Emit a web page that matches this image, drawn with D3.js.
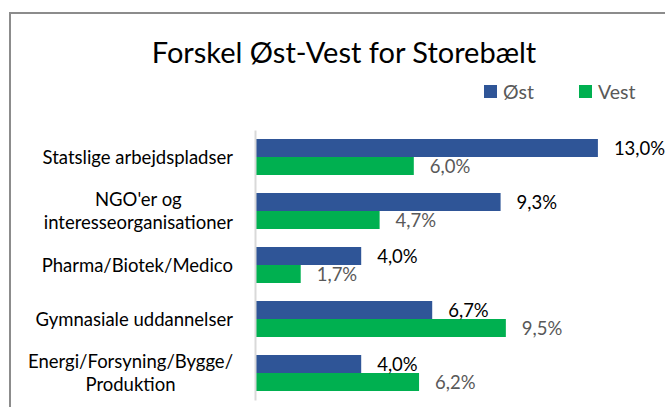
<!DOCTYPE html>
<html>
<head>
<meta charset="utf-8">
<script src="https://cdn.jsdelivr.net/npm/d3@7"></script>
<style>
  body { margin: 0; background: #fff; }
  text { font-family: Lato, "Open Sans", sans-serif; }
</style>
</head>
<body>
<div id="chart"></div>
<script>
// chart data
var categories = ["Statslige arbejdspladser", "NGO'er og interesseorganisationer", "Pharma/Biotek/Medico", "Gymnasiale uddannelser", "Energi/Forsyning/Bygge/Produktion"];
var categoryLines = [["Statslige arbejdspladser"], ["NGO'er og", "interesseorganisationer"], ["Pharma/Biotek/Medico"], ["Gymnasiale uddannelser"], ["Energi/Forsyning/Bygge/", "Produktion"]];
var series = ["Øst", "Vest"];
var ostValues = [13.0, 9.3, 4.0, 6.7, 4.0];
var vestValues = [6.0, 4.7, 1.7, 9.5, 6.2];
var colors = ["#2F5597", "#00B050"];
var labelColors = ["#000000", "#595959"];

var svgWidth = 665, svgHeight = 407;

var svg = d3.select("#chart").append("svg")
    .attr("width", svgWidth)
    .attr("height", svgHeight);

// frame of the chart area
svg.append("rect")
    .attr("x", 10).attr("y", 13)
    .attr("width", 700).attr("height", 500)
    .attr("fill", "#fff")
    .attr("stroke", "#8c8c8c")
    .attr("stroke-width", 2);

// title
svg.append("text")
    .attr("x", 344).attr("y", 63)
    .attr("text-anchor", "middle")
    .attr("font-size", 29)
    .attr("fill", "#000")
    .text("Forskel Øst-Vest for Storebælt");

// scales
var y = d3.scaleBand()
    .domain(categories)
    .range([130, 400])
    .paddingInner(1 / 3)
    .paddingOuter(1 / 6);

var ySub = d3.scaleBand()
    .domain(series)
    .range([0, y.bandwidth()]);

var x = d3.scaleLinear()
    .domain([0, 14])
    .range([256, 256 + 14 * 26.3]);

var rows = categories.map(function (c, i) {
    return { cat: c, values: [ostValues[i], vestValues[i]] };
});

// bars
var groups = svg.selectAll(".group")
    .data(rows)
    .enter().append("g")
    .attr("class", "group")
    .attr("transform", d => "translate(0," + y(d.cat) + ")");

groups.selectAll("rect")
    .data(d => d.values.map((v, j) => ({ s: series[j], v: v, j: j })))
    .enter().append("rect")
    .attr("x", x(0))
    .attr("y", d => ySub(d.s))
    .attr("width", d => x(d.v) - x(0))
    .attr("height", ySub.bandwidth())
    .attr("fill", d => colors[d.j]);

// value labels
groups.selectAll(".val")
    .data(d => d.values.map((v, j) => ({ s: series[j], v: v, j: j })))
    .enter().append("text")
    .attr("class", "val")
    .attr("x", d => x(d.v) + 16)
    .attr("y", d => ySub(d.s) + ySub.bandwidth() / 2)
    .attr("dy", "0.36em")
    .attr("font-size", 18.5)
    .attr("fill", d => labelColors[d.j])
    .text(d => d3.format(".1f")(d.v).replace(".", ",") + "%");

// y axis line
var yAxis = d3.axisLeft(y).tickSize(0).tickSizeOuter(0).tickFormat("");
var axisG = svg.append("g")
    .attr("transform", "translate(255,0)")
    .call(yAxis);
axisG.select(".domain").attr("stroke", "#d9d9d9").attr("stroke-width", 2);

// category labels, lines centred inside a block right-aligned to the axis
var lineH = 23;
var labelRight = 233;
categories.forEach(function (c, i) {
    var lines = categoryLines[i];
    var g = svg.append("g");
    var texts = lines.map(function (ln, k) {
        return g.append("text")
            .attr("y", y(c) + y.bandwidth() / 2 + (k - (lines.length - 1) / 2) * lineH)
            .attr("dy", "0.36em")
            .attr("font-size", 18.5)
            .attr("fill", "#000")
            .attr("text-anchor", "middle")
            .text(ln);
    });
    var maxW = d3.max(texts, t => t.node().getComputedTextLength());
    texts.forEach(t => t.attr("x", labelRight - maxW / 2));
});

// legend
var legend = svg.append("g");
var legendX = [484, 579];
series.forEach(function (s, j) {
    legend.append("rect")
        .attr("x", legendX[j]).attr("y", 85)
        .attr("width", 13).attr("height", 13)
        .attr("fill", colors[j]);
    legend.append("text")
        .attr("x", legendX[j] + 19).attr("y", 98.5)
        .attr("font-size", 19.5)
        .attr("fill", "#595959")
        .text(s);
});
</script>
</body>
</html>
